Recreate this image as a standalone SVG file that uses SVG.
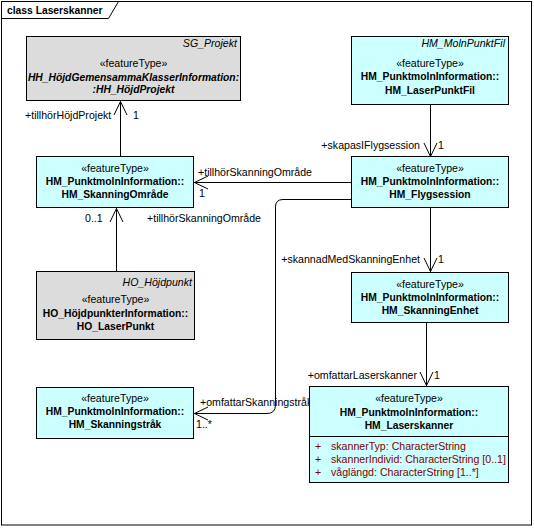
<svg xmlns="http://www.w3.org/2000/svg" width="534" height="528" viewBox="0 0 534 528">
<style>
text{font-family:"Liberation Sans",Arial,sans-serif;font-size:10.6px;fill:#000}
.b{font-weight:bold;font-size:10.3px}
.i{font-style:italic}
.m{text-anchor:middle}
.e{text-anchor:end}
.attr{fill:#800000}
.cy{fill:#ccffff;stroke:#000;stroke-width:1}
.gr{fill:#dcdcdc;stroke:#000;stroke-width:1}
.ln{fill:none;stroke:#000;stroke-width:1}
</style>
<rect x="0" y="0" width="534" height="528" fill="#fff"/>
<g id="frame">
<rect x="1.5" y="1.5" width="530" height="523.5" fill="none" stroke="#000"/>
<path d="M1.5,18.5 H108.5 L118.5,1.5" fill="none" stroke="#000"/>
<text x="7" y="14" class="b">class Laserskanner</text>
</g>
<g id="connectors">
<line class="ln" x1="120.5" y1="101" x2="120.5" y2="156"/>
<path class="ln" d="M114,115 L120.5,101.5 L127,115"/>
<text x="25" y="119">+tillhörHöjdProjekt</text>
<text x="133" y="119">1</text>

<line class="ln" x1="430.5" y1="105" x2="430.5" y2="157"/>
<path class="ln" d="M424,143 L430.5,156.5 L437,143"/>
<text x="420" y="149" class="e">+skapasIFlygsession</text>
<text x="438" y="149">1</text>

<line class="ln" x1="194" y1="182.5" x2="351" y2="182.5"/>
<path class="ln" d="M208,176 L194.5,182.5 L208,189"/>
<text x="198" y="175.5">+tillhörSkanningOmråde</text>
<text x="199" y="197">1</text>

<line class="ln" x1="116.5" y1="208" x2="116.5" y2="271"/>
<path class="ln" d="M110,222 L116.5,208.5 L123,222"/>
<text x="85" y="222">0..1</text>
<text x="147" y="222">+tillhörSkanningOmråde</text>

<line class="ln" x1="430.5" y1="208" x2="430.5" y2="272"/>
<path class="ln" d="M424,258 L430.5,271.5 L437,258"/>
<text x="420" y="263" class="e">+skannadMedSkanningEnhet</text>
<text x="438" y="263">1</text>

<line class="ln" x1="426.5" y1="323" x2="426.5" y2="386"/>
<path class="ln" d="M420,372 L426.5,385.5 L433,372"/>
<text x="417" y="379" class="e">+omfattarLaserskanner</text>
<text x="434" y="379">1</text>

<path class="ln" d="M351,199.5 H283 Q275.5,199.5 275.5,207 V405 Q275.5,413.5 267,413.5 H194.5"/>
<path class="ln" d="M208,407 L194.5,413.5 L208,420"/>
<text x="200" y="405.5">+omfattarSkanningstråk</text>
<text x="196" y="428">1..*</text>
</g>
<g id="SG_Projekt">
<rect class="gr" x="26.5" y="36.5" width="214" height="64"/>
<text x="237" y="47" class="i e">SG_Projekt</text>
<text x="133.5" y="67" class="m">«featureType»</text>
<text x="133.5" y="80.5" class="b i m">HH_HöjdGemensammaKlasserInformation:</text>
<text x="133.5" y="93" class="b i m">:HH_HöjdProjekt</text>
</g>
<g id="HM_LaserPunktFil">
<rect class="cy" x="351.5" y="36.5" width="157" height="68"/>
<text x="505" y="47" class="i e">HM_MolnPunktFil</text>
<text x="430" y="67" class="m">«featureType»</text>
<text x="430" y="80" class="b m">HM_PunktmolnInformation::</text>
<text x="430" y="93.5" class="b m">HM_LaserPunktFil</text>
</g>
<g id="HM_SkanningOmrade">
<rect class="cy" x="36.5" y="156.5" width="157" height="51"/>
<text x="115" y="172" class="m">«featureType»</text>
<text x="115" y="185" class="b m">HM_PunktmolnInformation::</text>
<text x="115" y="198" class="b m">HM_SkanningOmråde</text>
</g>
<g id="HM_Flygsession">
<rect class="cy" x="351.5" y="156.5" width="157" height="51"/>
<text x="430" y="172" class="m">«featureType»</text>
<text x="430" y="185" class="b m">HM_PunktmolnInformation::</text>
<text x="430" y="198" class="b m">HM_Flygsession</text>
</g>
<g id="HO_LaserPunkt">
<rect class="gr" x="36.5" y="271.5" width="158" height="68"/>
<text x="192" y="285.5" class="i e">HO_Höjdpunkt</text>
<text x="115.5" y="303" class="m">«featureType»</text>
<text x="115.5" y="316.5" class="b m">HO_HöjdpunkterInformation::</text>
<text x="115.5" y="329.5" class="b m">HO_LaserPunkt</text>
</g>
<g id="HM_SkanningEnhet">
<rect class="cy" x="351.5" y="272.5" width="157" height="50"/>
<text x="430" y="288" class="m">«featureType»</text>
<text x="430" y="300.5" class="b m">HM_PunktmolnInformation::</text>
<text x="430" y="313.5" class="b m">HM_SkanningEnhet</text>
</g>
<g id="HM_Skanningstrak">
<rect class="cy" x="36.5" y="387.5" width="157" height="51"/>
<text x="115" y="402" class="m">«featureType»</text>
<text x="115" y="415" class="b m">HM_PunktmolnInformation::</text>
<text x="115" y="428" class="b m">HM_Skanningstråk</text>
</g>
<g id="HM_Laserskanner">
<rect class="cy" x="309.5" y="386.5" width="199" height="96"/>
<line class="ln" x1="309.5" y1="436.5" x2="508.5" y2="436.5"/>
<text x="409" y="402" class="m">«featureType»</text>
<text x="409" y="415.5" class="b m">HM_PunktmolnInformation::</text>
<text x="409" y="429" class="b m">HM_Laserskanner</text>
<text x="315" y="450" class="attr">+</text>
<text x="331" y="450" class="attr">skannerTyp: CharacterString</text>
<text x="315" y="463" class="attr">+</text>
<text x="331" y="463" class="attr">skannerIndivid: CharacterString [0..1]</text>
<text x="315" y="475.5" class="attr">+</text>
<text x="331" y="475.5" class="attr">våglängd: CharacterString [1..*]</text>
</g>
</svg>
